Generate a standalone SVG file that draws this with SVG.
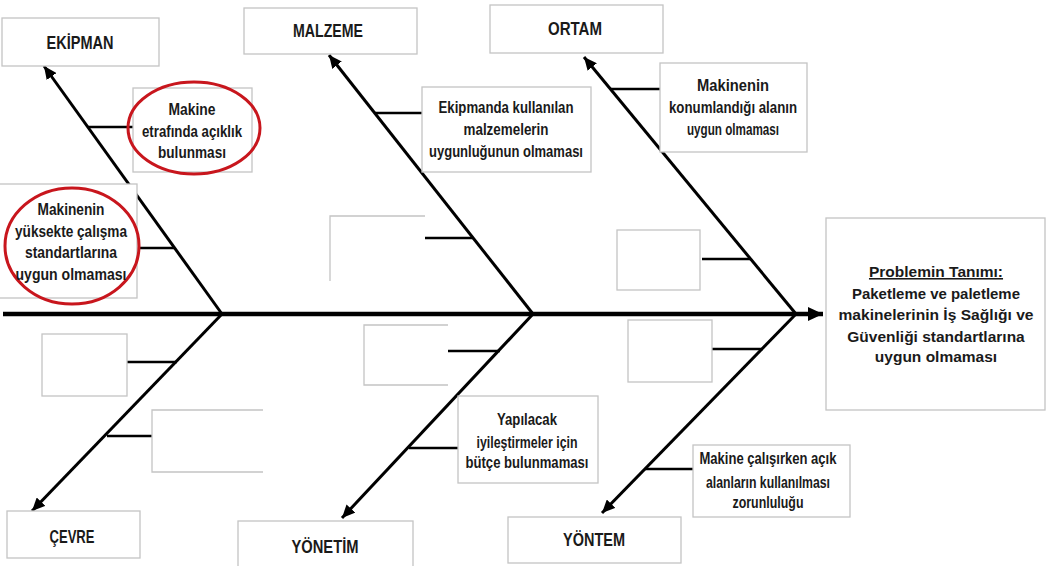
<svg xmlns="http://www.w3.org/2000/svg" width="1047" height="566" viewBox="0 0 1047 566">
<style>
.box{fill:#fff;stroke:#c4c4c4;stroke-width:1.3}
.open{fill:none;stroke:#c4c4c4;stroke-width:1.3}
.bone{stroke:#000;stroke-width:3;fill:none}
.twig{stroke:#000;stroke-width:2.5;fill:none}
.oval{fill:none;stroke:#c8161d;stroke-width:3}
.h{font-family:"Liberation Sans",Arial,sans-serif;font-weight:bold;font-size:18px;fill:#1a1a1a;text-anchor:middle}
.t{font-family:"Liberation Sans",Arial,sans-serif;font-weight:bold;font-size:16.5px;fill:#1a1a1a;text-anchor:middle}
.p{font-family:"Liberation Sans",Arial,sans-serif;font-weight:bold;font-size:15.5px;fill:#1a1a1a;text-anchor:middle}
</style>
<defs>
<marker id="ah" markerUnits="userSpaceOnUse" markerWidth="14" markerHeight="12" refX="13" refY="6" orient="auto">
<path d="M0,0 L13,6 L0,12 Z" fill="#000"/>
</marker>
<marker id="ahs" markerUnits="userSpaceOnUse" markerWidth="16" markerHeight="16" refX="15" refY="8" orient="auto">
<path d="M0,1 L15,8 L0,15 Z" fill="#000"/>
</marker>
</defs>
<rect width="1047" height="566" fill="#fff"/>

<g id="connectors">
<line x1="3" y1="314" x2="823" y2="314" stroke="#000" stroke-width="4.5" marker-end="url(#ahs)"/>
<line class="bone" x1="222" y1="314" x2="44" y2="66" marker-end="url(#ah)"/>
<line class="bone" x1="533" y1="314" x2="329" y2="55" marker-end="url(#ah)"/>
<line class="bone" x1="796" y1="314" x2="584" y2="57" marker-end="url(#ah)"/>
<line class="bone" x1="222" y1="314" x2="32" y2="511" marker-end="url(#ah)"/>
<line class="bone" x1="533" y1="314" x2="342" y2="518" marker-end="url(#ah)"/>
<line class="bone" x1="796" y1="314" x2="602" y2="513" marker-end="url(#ah)"/>
<line class="twig" x1="88" y1="127" x2="133" y2="127"/>
<line class="twig" x1="140" y1="248" x2="174" y2="248"/>
<line class="twig" x1="375" y1="113" x2="422" y2="113"/>
<line class="twig" x1="425" y1="238" x2="473" y2="238"/>
<line class="twig" x1="611" y1="89" x2="660" y2="89"/>
<line class="twig" x1="702" y1="259" x2="751" y2="259"/>
<line class="twig" x1="127" y1="362" x2="177" y2="362"/>
<line class="twig" x1="107" y1="436" x2="152" y2="436"/>
<line class="twig" x1="448" y1="351" x2="500" y2="351"/>
<line class="twig" x1="409" y1="448" x2="458" y2="448"/>
<line class="twig" x1="712" y1="349" x2="763" y2="349"/>
<line class="twig" x1="645" y1="469" x2="693" y2="469"/>
</g>

<g id="ekipman"><rect class="box" x="2" y="18" width="157" height="48"/><text class="h" x="80" y="49" textLength="67" lengthAdjust="spacingAndGlyphs">EKİPMAN</text></g>
<g id="malzeme"><rect class="box" x="244" y="8" width="173" height="46"/><text class="h" x="328" y="37" textLength="70" lengthAdjust="spacingAndGlyphs">MALZEME</text></g>
<g id="ortam"><rect class="box" x="490" y="5" width="173" height="48"/><text class="h" x="575" y="35" textLength="54" lengthAdjust="spacingAndGlyphs">ORTAM</text></g>
<g id="cevre"><rect class="box" x="7" y="511" width="133" height="47"/><text class="h" x="72" y="543" textLength="45" lengthAdjust="spacingAndGlyphs">ÇEVRE</text></g>
<g id="yonetim"><rect class="box" x="238" y="521" width="175" height="60"/><text class="h" x="325" y="553" textLength="67" lengthAdjust="spacingAndGlyphs">YÖNETİM</text></g>
<g id="yontem"><rect class="box" x="508" y="517" width="173" height="46"/><text class="h" x="594" y="546" textLength="62" lengthAdjust="spacingAndGlyphs">YÖNTEM</text></g>

<g id="problem"><rect class="box" x="826" y="218" width="219" height="192"/>
<text class="p" x="936" y="277" text-decoration="underline">Problemin Tanımı:</text>
<text class="p" x="936" y="299" textLength="168" lengthAdjust="spacingAndGlyphs">Paketleme ve paletleme</text>
<text class="p" x="936" y="320" textLength="195" lengthAdjust="spacingAndGlyphs">makinelerinin İş Sağlığı ve</text>
<text class="p" x="936" y="342">Güvenliği standartlarına</text>
<text class="p" x="936" y="362">uygun olmaması</text></g>

<g id="cause-aciklik"><rect class="box" x="133" y="88" width="119" height="84"/>
<ellipse class="oval" cx="194" cy="128" rx="66" ry="46"/>
<text class="t" x="192" y="115" textLength="47" lengthAdjust="spacingAndGlyphs">Makine</text><text class="t" x="192" y="137" textLength="100" lengthAdjust="spacingAndGlyphs">etrafında açıklık</text><text class="t" x="192" y="158" textLength="68" lengthAdjust="spacingAndGlyphs">bulunması</text></g>

<g id="cause-yuksekte"><rect class="box" x="-2" y="184" width="139" height="114"/>
<ellipse class="oval" cx="72" cy="246" rx="67" ry="58"/>
<text class="t" x="71" y="215" textLength="67" lengthAdjust="spacingAndGlyphs">Makinenin</text><text class="t" x="71" y="237" textLength="112" lengthAdjust="spacingAndGlyphs">yüksekte çalışma</text><text class="t" x="71" y="258" textLength="92" lengthAdjust="spacingAndGlyphs">standartlarına</text><text class="t" x="71" y="280" textLength="111" lengthAdjust="spacingAndGlyphs">uygun olmaması</text></g>

<g id="cause-malzeme"><rect class="box" x="422" y="87" width="169" height="85"/>
<text class="t" x="506" y="113" textLength="135" lengthAdjust="spacingAndGlyphs">Ekipmanda kullanılan</text><text class="t" x="506" y="135" textLength="85" lengthAdjust="spacingAndGlyphs">malzemelerin</text><text class="t" x="506" y="157" textLength="154" lengthAdjust="spacingAndGlyphs">uygunluğunun olmaması</text></g>

<g id="cause-konum"><rect class="box" x="660" y="63" width="147" height="89"/>
<text class="t" x="733" y="91" textLength="72" lengthAdjust="spacingAndGlyphs">Makinenin</text><text class="t" x="733" y="113" textLength="128" lengthAdjust="spacingAndGlyphs">konumlandığı alanın</text><text class="t" x="733" y="135" textLength="92" lengthAdjust="spacingAndGlyphs">uygun olmaması</text></g>

<g id="cause-butce"><rect class="box" x="458" y="396" width="140" height="87"/>
<text class="t" x="527" y="425" textLength="60" lengthAdjust="spacingAndGlyphs">Yapılacak</text><text class="t" x="527" y="448" textLength="101" lengthAdjust="spacingAndGlyphs">iyileştirmeler için</text><text class="t" x="527" y="468" textLength="123" lengthAdjust="spacingAndGlyphs">bütçe bulunmaması</text></g>

<g id="cause-acik-alan"><rect class="box" x="693" y="445" width="157" height="72"/>
<text class="t" x="768" y="464" textLength="137" lengthAdjust="spacingAndGlyphs">Makine çalışırken açık</text><text class="t" x="768" y="488" textLength="124" lengthAdjust="spacingAndGlyphs">alanların kullanılması</text><text class="t" x="768" y="508" textLength="71" lengthAdjust="spacingAndGlyphs">zorunluluğu</text></g>

<g id="empty-malzeme"><path class="open" d="M425,216 H330 V281"/></g>
<g id="empty-ortam"><rect class="box" x="617" y="230" width="83" height="60"/></g>
<g id="empty-cevre-1"><rect class="box" x="42" y="334" width="85" height="62"/></g>
<g id="empty-cevre-2"><path class="open" d="M263,410 H152 V472 H263"/></g>
<g id="empty-yonetim"><path class="open" d="M448,325 H364 V385 H448"/></g>
<g id="empty-yontem"><rect class="box" x="628" y="320" width="84" height="62"/></g>
</svg>
